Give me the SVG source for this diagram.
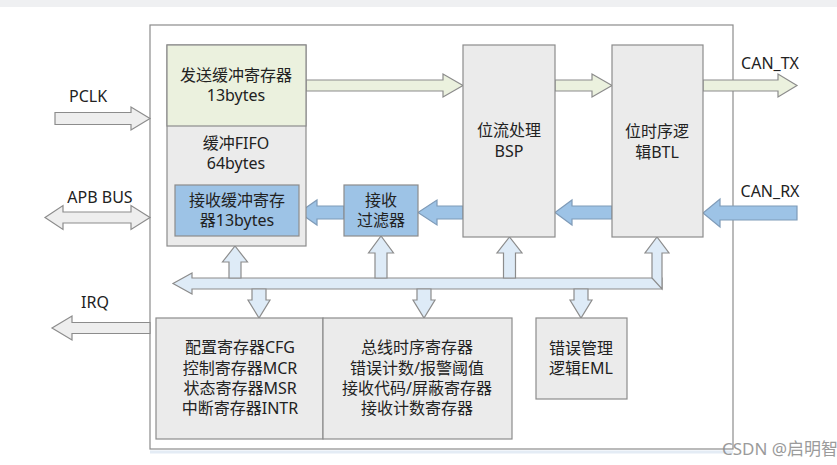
<svg xmlns="http://www.w3.org/2000/svg" width="837" height="465" viewBox="0 0 837 465">
<style>
text{font-family:"Noto Sans","Noto Sans CJK SC",sans-serif;font-size:16px;fill:#222222;text-anchor:middle;dominant-baseline:central}
.box{stroke:#8c8c8c;stroke-width:1.2}
.gray{fill:#ebebeb}
.green{fill:#ebf1de}
.blue{fill:#9dc3e6}
.ag{fill:#ebf1de;stroke:#8c8c8c;stroke-width:1.2}
.ab{fill:#9dc3e6;stroke:#7f9bb8;stroke-width:1.2}
.al{fill:#deebf7;stroke:#8c8c8c;stroke-width:1.2}
.ax{fill:#eeeeee;stroke:#8c8c8c;stroke-width:1.2}
.lbl{font-size:16px}
</style>
<rect x="0" y="0" width="837" height="465" fill="#ffffff"/>
<rect x="0" y="0" width="837" height="7" fill="#eff0f2"/>
<line x1="150" y1="452" x2="733" y2="452" stroke="#e4ecf5" stroke-width="3"/>
<rect id="frame" x="150" y="25" width="583" height="424" fill="#ffffff" stroke="#8c8c8c" stroke-width="1.2"/>

<g id="connectors">
  <!-- external -->
  <polygon class="ax" points="55,112.5 131,112.5 131,107 150,118.5 131,130 131,124.5 55,124.5"/>
  <polygon class="ax" points="45,217.5 63,205.5 63,212 131,212 131,205.5 150,217.5 131,229.5 131,223 63,223 63,229.5"/>
  <polygon class="ax" points="150,322.5 72,322.5 72,316 52,328 72,340 72,333.5 150,333.5"/>
  <!-- green tx path -->
  <polygon class="ag" points="306,80 443,80 443,74 463,85.5 443,97 443,91 306,91"/>
  <polygon class="ag" points="555,80 592,80 592,74 612,85.5 592,97 592,91 555,91"/>
  <polygon class="ag" points="703,80 778,80 778,74 797,85.5 778,97 778,91 703,91"/>
  <!-- blue rx path -->
  <polygon class="ab" points="797,206 720,206 720,199 703,213 720,227 720,220 797,220"/>
  <polygon class="ab" points="612,206 572,206 572,200 555,212.5 572,225 572,219 612,219"/>
  <polygon class="ab" points="463,206 437,206 437,200 418,212.5 437,225 437,219 463,219"/>
  <polygon class="ab" points="344,206 317,206 317,200 299,212.5 317,225 317,219 344,219"/>
  <!-- internal bus -->
  <polygon class="al" points="662,278 192,278 192,273 173,283.5 192,294 192,289 662,289"/>
  <polygon class="al" points="229,278 229,262 222.5,262 235,246 247.5,262 241,262 241,278"/>
  <polygon class="al" points="375,278 375,253 368.5,253 381,236 393.5,253 387,253 387,278"/>
  <polygon class="al" points="503.5,278 503.5,253 497,253 509.5,237 522,253 515.5,253 515.5,278"/>
  <polygon class="al" points="652,278 652,253 645,253 657,237 669,253 662,253 662,289"/>
  <polygon class="al" points="252,289 252,300 248,300 259,318 270,300 266,300 266,289"/>
  <polygon class="al" points="417,289 417,300 413,300 424,318 435,300 431,300 431,289"/>
  <polygon class="al" points="574,289 574,300 570,300 581,318 592,300 588,300 588,289"/>
</g>

<g id="fifo">
  <rect class="box gray" x="167" y="45" width="139" height="201"/>
  <text x="236" y="143">缓冲FIFO</text>
  <text x="236" y="163">64bytes</text>
</g>
<g id="tx-buffer">
  <rect class="box green" x="167" y="45" width="139" height="81"/>
  <text x="236" y="75">发送缓冲寄存器</text>
  <text x="236" y="95">13bytes</text>
</g>
<g id="rx-buffer">
  <rect class="box blue" x="175" y="185" width="124" height="51"/>
  <text x="237" y="200">接收缓冲寄存</text>
  <text x="237" y="220">器13bytes</text>
</g>
<g id="rx-filter">
  <rect class="box blue" x="344" y="185" width="74" height="51"/>
  <text x="381" y="200">接收</text>
  <text x="381" y="220">过滤器</text>
</g>
<g id="bsp">
  <rect class="box gray" x="463" y="45" width="92" height="192"/>
  <text x="509" y="130">位流处理</text>
  <text x="509" y="151">BSP</text>
</g>
<g id="btl">
  <rect class="box gray" x="612" y="45" width="91" height="192"/>
  <text x="657" y="131">位时序逻</text>
  <text x="657" y="152">辑BTL</text>
</g>
<g id="regs-left">
  <rect class="box gray" x="156" y="318" width="167" height="121"/>
  <text x="240" y="347">配置寄存器CFG</text>
  <text x="240" y="368">控制寄存器MCR</text>
  <text x="240" y="388">状态寄存器MSR</text>
  <text x="240" y="408">中断寄存器INTR</text>
</g>
<g id="regs-mid">
  <rect class="box gray" x="323" y="318" width="189" height="121"/>
  <text x="417" y="347">总线时序寄存器</text>
  <text x="417" y="368">错误计数/报警阈值</text>
  <text x="417" y="388">接收代码/屏蔽寄存器</text>
  <text x="417" y="408">接收计数寄存器</text>
</g>
<g id="eml">
  <rect class="box gray" x="536" y="318" width="91" height="81"/>
  <text x="581" y="348">错误管理</text>
  <text x="581" y="368">逻辑EML</text>
</g>

<g id="labels">
  <text class="lbl" x="88" y="96">PCLK</text>
  <text class="lbl" x="100" y="197">APB BUS</text>
  <text class="lbl" x="95" y="302">IRQ</text>
  <text class="lbl" x="770" y="63">CAN_TX</text>
  <text class="lbl" x="770" y="191">CAN_RX</text>
</g>
<text x="722" y="448" style="text-anchor:start;font-size:17px;fill:#8a8a8a;opacity:0.85">CSDN @启明智</text>
</svg>
